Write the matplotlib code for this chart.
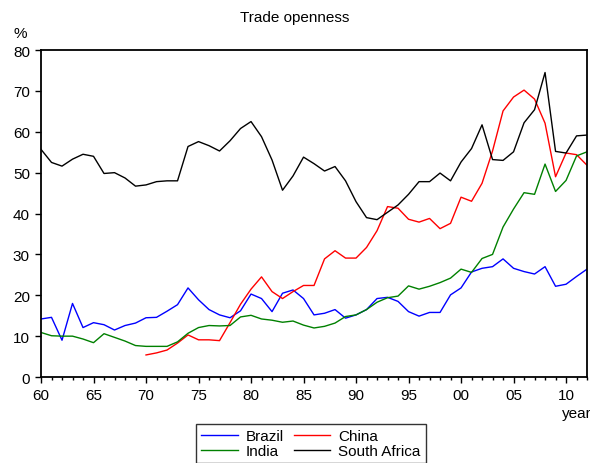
import numpy as np
import matplotlib
matplotlib.use('Agg')
import matplotlib.pyplot as plt
from matplotlib.ticker import MultipleLocator

plt.rcParams['font.family'] = ['Liberation Sans', 'DejaVu Sans']

years = np.arange(1960, 2013)

brazil = [14.2, 14.6, 9.0, 18.0, 12.1, 13.3, 12.8, 11.5, 12.6, 13.2,
          14.5, 14.6, 16.1, 17.7, 21.8, 18.9, 16.5, 15.2, 14.5, 16.2,
          20.3, 19.2, 16.0, 20.5, 21.3, 19.2, 15.2, 15.6, 16.5, 14.4,
          15.2, 16.5, 19.2, 19.5, 18.5, 16.0, 14.9, 15.8, 15.8, 20.1,
          21.8, 25.7, 26.6, 27.0, 28.9, 26.6, 25.8, 25.2, 27.0, 22.2,
          22.7, 24.6, 26.4]
# China series starts in 1970
china = [np.nan] * 10 + [
          5.4, 5.9, 6.6, 8.3, 10.3, 9.1, 9.1, 8.9, 13.3, 17.8,
          21.5, 24.5, 20.9, 19.2, 20.9, 22.4, 22.4, 28.9, 30.9, 29.1,
          29.1, 31.7, 35.8, 41.7, 41.3, 38.6, 37.9, 38.8, 36.3, 37.6,
          44.0, 43.0, 47.4, 55.3, 65.1, 68.5, 70.2, 68.0, 62.1, 49.0,
          54.8, 54.4, 51.8]
india = [10.9, 10.1, 10.0, 10.0, 9.3, 8.4, 10.6, 9.7, 8.8, 7.7,
         7.5, 7.5, 7.5, 8.6, 10.7, 12.1, 12.6, 12.5, 12.6, 14.7,
         15.1, 14.2, 13.9, 13.4, 13.7, 12.7, 12.0, 12.4, 13.2, 14.8,
         15.2, 16.5, 18.3, 19.4, 19.8, 22.3, 21.5, 22.2, 23.1, 24.2,
         26.4, 25.6, 29.0, 30.0, 36.7, 41.1, 45.1, 44.7, 52.1, 45.4,
         48.1, 54.1, 55.1]
south_africa = [55.7, 52.5, 51.6, 53.3, 54.5, 54.0, 49.8, 50.0, 48.7, 46.7,
                47.0, 47.8, 48.0, 48.0, 56.4, 57.6, 56.6, 55.3, 57.8, 60.8,
                62.5, 58.8, 53.1, 45.7, 49.2, 53.8, 52.2, 50.4, 51.5, 48.0,
                42.9, 39.0, 38.5, 40.3, 42.1, 44.7, 47.8, 47.8, 49.9, 48.0,
                52.6, 55.9, 61.7, 53.2, 53.0, 55.1, 62.2, 65.4, 74.5, 55.2,
                54.8, 59.0, 59.2]

fig = plt.figure(figsize=(5.9, 4.64), dpi=100)
ax = fig.add_axes([0.0695, 0.1853, 0.9255, 0.7047])

# plot order chosen so the 2-column legend reads Brazil, China / India, South Africa
l_br, = ax.plot(years, brazil, color='blue', lw=1, label='Brazil')
l_ch, = ax.plot(years, china, color='red', lw=1, label='China')
l_in, = ax.plot(years, india, color='green', lw=1, label='India')
l_sa, = ax.plot(years, south_africa, color='black', lw=1, label='South Africa')

ax.set_xlim(1960, 2012)
ax.set_ylim(0, 80)
ax.xaxis.set_minor_locator(MultipleLocator(1))
ax.yaxis.set_major_locator(MultipleLocator(10))
ax.set_xticks(np.arange(1960, 2013, 5))
ax.set_xticklabels(['%02d' % (y % 100) for y in range(1960, 2013, 5)])
ax.tick_params(axis='both', which='major', labelsize=11, length=4.5, width=1)
ax.tick_params(axis='x', which='minor', length=2.5, width=1)
for s in ax.spines.values():
    s.set_linewidth(1.3)

fig.text(0.5, 0.961, 'Trade openness', ha='center', va='center', fontsize=11)
fig.text(0.034, 0.927, '%', ha='center', va='center', fontsize=11)
fig.text(0.977, 0.107, 'year', ha='center', va='center', fontsize=11)

leg = fig.legend([l_br, l_in, l_ch, l_sa], ['Brazil', 'India', 'China', 'South Africa'],
                 loc='upper left', bbox_to_anchor=(196 / 590, 1 - 425 / 464),
                 bbox_transform=fig.transFigure, ncol=2,
                 fontsize=11, frameon=True, fancybox=False, edgecolor='black',
                 handlelength=2.4, borderpad=0.35, labelspacing=0.05,
                 columnspacing=0.65, handletextpad=0.5, borderaxespad=0)
leg.get_frame().set_linewidth(1)

plt.savefig('out.png', dpi=100)
